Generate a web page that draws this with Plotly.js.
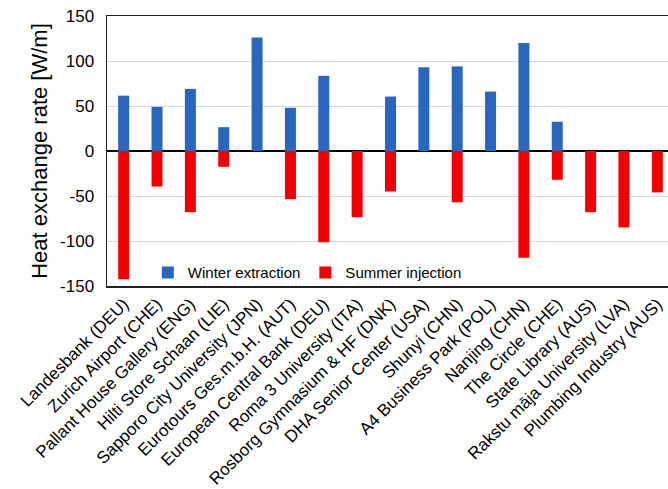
<!DOCTYPE html>
<html><head><meta charset="utf-8">
<script src="https://cdn.plot.ly/plotly-3.0.1.min.js"></script>
<style>html,body{margin:0;padding:0;overflow:hidden;background:#fff}</style>
</head><body>
<div id="chart" style="width:676px;height:489px"></div>
<script>
const categories = ["Landesbank (DEU)","Zurich Airport (CHE)","Pallant House Gallery (ENG)","Hilti Store Schaan (LIE)","Sapporo City University (JPN)","Eurotours Ges.m.b.H. (AUT)","European Central Bank (DEU)","Roma 3 University (ITA)","Rosborg Gymnasium & HF (DNK)","DHA Senior Center (USA)","Shunyi (CHN)","A4 Business Park (POL)","Nanjing (CHN)","The Circle (CHE)","State Library (AUS)","Rakstu māja University (LVA)","Plumbing Industry (AUS)"];
const winter = [61.5, 49, 69, 26.5, 126, 48, 83.5, null, 60.5, 93, 94, 66, 120, 32.5, null, null, null];
const summer = [-142.5, -39.5, -68, -17.5, null, -53.5, -101.5, -73.5, -45, null, -57, null, -118.5, -32, -68, -85, -46];
const yTickVals = [-150, -100, -50, 0, 50, 100, 150];
const yTickText = ["-150", "-100", "-50", "0", "50", "100", "150"];

const traces = [
  {type:'bar', name:'Winter extraction', x:categories, y:winter, width:0.33, marker:{color:'#2966BE'}},
  {type:'bar', name:'Summer injection', x:categories, y:summer, width:0.33, marker:{color:'#F00000'}}
];
const layout = {
  width:676, height:489,
  margin:{l:107, r:2, t:16, b:203},
  paper_bgcolor:'#fff', plot_bgcolor:'#fff',
  barmode:'overlay',
  font:{family:'Arial, Liberation Sans, sans-serif', color:'#000'},
  showlegend:true,
  legend:{orientation:'h', x:0.072, y:-0.012, xanchor:'left', yanchor:'bottom', font:{size:15}, bgcolor:'rgba(0,0,0,0)', itemwidth:30, traceorder:'normal'},
  xaxis:{tickangle:-45, tickfont:{size:17}, showline:true, linecolor:'#222', linewidth:1.5, mirror:true, ticks:'', showgrid:false, range:[-0.5,16.5]},
  yaxis:{range:[-150,150], tickvals:yTickVals, ticktext:yTickText, tickfont:{size:17}, ticklabelstandoff:8, showline:true, linecolor:'#222', linewidth:1.5, mirror:true, ticks:'', gridcolor:'#d9d9d9', zeroline:true, zerolinecolor:'#000', zerolinewidth:1.5,
    title:{text:'Heat exchange rate [W/m]', font:{size:22}, standoff:6}}
};
Plotly.newPlot('chart', traces, layout, {staticPlot:true});
</script>
</body></html>
